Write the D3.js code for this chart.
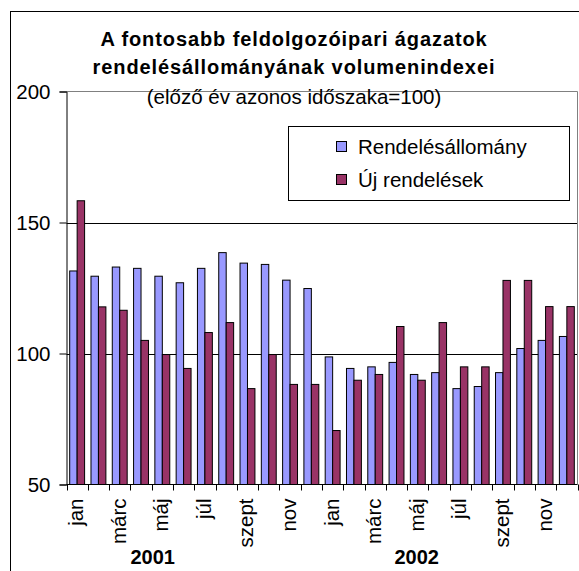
<!DOCTYPE html>
<html>
<head>
<meta charset="utf-8">
<style>
  body { margin: 0; background: #fff; }
  svg { font-family: "Liberation Sans", Arial, sans-serif; }
</style>
</head>
<body>
<script src="https://cdn.jsdelivr.net/npm/d3@7"></script>
<script>
  // adatok
  var months = ["jan","febr","márc","ápr","máj","jún","júl","aug","szept","okt","nov","dec"];
  var years = ["2001", "2002"];
  var seriesNames = ["Rendelésállomány", "Új rendelések"];
  var rendelesallomany = [131.5, 129.5, 133, 132.5, 129.5, 127, 132.5, 138.5, 134.5, 134, 128, 124.8,
                          98.7, 94.3, 94.9, 96.6, 92, 92.7, 86.6, 87.4, 92.7, 101.9, 105, 106.5];
  var ujRendelesek = [158.3, 117.8, 116.5, 105, 99.6, 94.3, 108, 111.8, 86.6, 99.6, 88.2, 88.2,
                      70.6, 89.8, 92, 110.3, 89.8, 111.8, 94.9, 94.9, 127.9, 127.9, 117.9, 117.9];
  var yTicks = [50, 100, 150, 200];
  var colors = ["#9999ff", "#993366"];

  var width = 579, height = 571;
  var svg = d3.select("body").append("svg")
              .attr("width", width)
              .attr("height", height);

  // kulso keret
  svg.append("rect")
     .attr("x", 10.5).attr("y", 11.5)
     .attr("width", 620).attr("height", 620)
     .attr("fill", "none").attr("stroke", "#000");

  var plot = {left: 66.5, right: 577.5, top: 91.5, bottom: 484.5};

  var cats = d3.range(months.length * years.length);
  var x = d3.scaleBand().domain(cats).range([plot.left, plot.right]);
  var bw = x.bandwidth();
  var xs = d3.scaleBand().domain(seriesNames).range([bw * 0.15, bw * 0.85]);
  var y = d3.scaleLinear().domain([50, 200]).range([plot.bottom, plot.top]);

  // racsvonalak
  svg.selectAll("line.grid")
     .data([100, 150])
     .enter().append("line")
     .attr("x1", plot.left).attr("x2", plot.right)
     .attr("y1", function(d) { return Math.round(y(d)) + 0.5; })
     .attr("y2", function(d) { return Math.round(y(d)) + 0.5; })
     .attr("stroke", "#000");

  // rajzterulet keret (szurke)
  svg.append("path")
     .attr("d", "M" + plot.left + "," + plot.top + "H" + plot.right + "V" + plot.bottom)
     .attr("fill", "none").attr("stroke", "#808080");

  // oszlopok
  var data = [rendelesallomany, ujRendelesek];
  data.forEach(function(vals, s) {
    svg.append("g").selectAll("rect")
       .data(vals)
       .enter().append("rect")
       .attr("x", function(d, i) { return x(i) + xs(seriesNames[s]); })
       .attr("y", function(d) { return y(d); })
       .attr("width", xs.bandwidth())
       .attr("height", function(d) { return y(50) - y(d); })
       .attr("fill", colors[s])
       .attr("stroke", "#000")
       .attr("stroke-width", 1);
  });

  // y tengely
  var yAxis = d3.axisLeft(y).tickValues(yTicks).tickSize(7).tickPadding(9);
  var gy = svg.append("g")
              .attr("transform", "translate(" + plot.left + ",0)")
              .call(yAxis);
  gy.select(".domain").attr("stroke", "#000");
  gy.selectAll("text")
    .attr("font-size", "20.5px")
    .attr("font-family", "Liberation Sans, Arial, sans-serif")
    .attr("fill", "#000");

  // x tengely
  svg.append("line")
     .attr("x1", plot.left).attr("x2", plot.right)
     .attr("y1", plot.bottom).attr("y2", plot.bottom)
     .attr("stroke", "#000");
  svg.selectAll("line.xtick")
     .data(cats.concat([cats.length]))
     .enter().append("line")
     .attr("x1", function(d) { return Math.round(plot.left + d * bw) + 0.5; })
     .attr("x2", function(d) { return Math.round(plot.left + d * bw) + 0.5; })
     .attr("y1", plot.bottom).attr("y2", plot.bottom + 6)
     .attr("stroke", "#000");

  svg.selectAll("text.month")
     .data(cats.filter(function(d) { return d % 2 === 0; }))
     .enter().append("text")
     .attr("transform", function(d) {
        return "translate(" + (x(d) + bw / 2 + 6) + "," + (plot.bottom + 14) + ") rotate(-90)";
     })
     .attr("text-anchor", "end")
     .attr("font-size", "20.5px")
     .text(function(d) { return months[d % 12]; });

  svg.selectAll("text.year")
     .data(years)
     .enter().append("text")
     .attr("x", function(d, i) { return plot.left + (i * 12.4 + 4.05) * bw; })
     .attr("y", 564)
     .attr("text-anchor", "middle")
     .attr("font-size", "20px")
     .attr("font-weight", "bold")
     .text(function(d) { return d; });

  // cim
  var titles = [
    {t: "A fontosabb feldolgozóipari ágazatok", y: 46, bold: true},
    {t: "rendelésállományának volumenindexei", y: 74, bold: true},
    {t: "(előző év azonos időszaka=100)", y: 104, bold: false}
  ];
  svg.selectAll("text.title")
     .data(titles)
     .enter().append("text")
     .attr("x", 294)
     .attr("y", function(d) { return d.y; })
     .attr("text-anchor", "middle")
     .attr("font-size", function(d) { return d.bold ? "20px" : "20.5px"; })
     .attr("font-weight", function(d) { return d.bold ? "bold" : "normal"; })
     .attr("letter-spacing", function(d) { return d.bold ? "0.9px" : "0px"; })
     .text(function(d) { return d.t; });

  // jelmagyarazat
  var lg = svg.append("g");
  lg.append("rect")
    .attr("x", 288.5).attr("y", 126.5)
    .attr("width", 281).attr("height", 74)
    .attr("fill", "#fff").attr("stroke", "#000");
  var items = lg.selectAll("g.item")
    .data(seriesNames)
    .enter().append("g")
    .attr("transform", function(d, i) { return "translate(336," + (146 + i * 33) + ")"; });
  items.append("rect")
    .attr("x", 0.5).attr("y", -4.5)
    .attr("width", 10).attr("height", 10)
    .attr("fill", function(d, i) { return colors[i]; })
    .attr("stroke", "#000");
  items.append("text")
    .attr("x", 22).attr("y", 8)
    .attr("font-size", "20.5px")
    .text(function(d) { return d; });
</script>
</body>
</html>
